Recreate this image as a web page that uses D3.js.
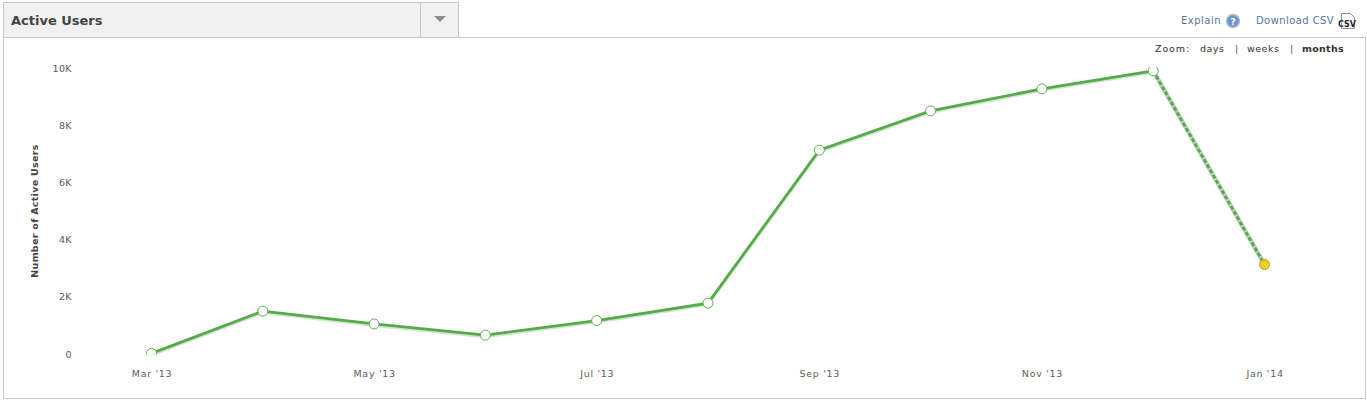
<!DOCTYPE html>
<html><head><meta charset="utf-8">
<script src="https://cdnjs.cloudflare.com/ajax/libs/d3/7.8.5/d3.min.js"></script>
<style>html,body{margin:0;padding:0;background:#fff;overflow:hidden}svg{display:block}text{font-family:"DejaVu Sans",Verdana,sans-serif}</style>
</head><body><svg id="c" width="1367" height="400"></svg>
<script>
const months=["Mar '13","Apr '13","May '13","Jun '13","Jul '13","Aug '13","Sep '13","Oct '13","Nov '13","Dec '13","Jan '14"];
const activeUsers=[20,1500,1050,660,1170,1780,7130,8500,9270,9900,3130];
const yTicks=[0,2000,4000,6000,8000,10000];
const xTickLabels=["Mar '13","May '13","Jul '13","Sep '13","Nov '13","Jan '14"];
const zoomOptions=["days","weeks","months"];

const svg=d3.select("#c");
const x=d3.scalePoint().domain(months).range([151.5,1264.5]);
const y=d3.scaleLinear().domain([0,10000]).range([354,68]);

// frame
svg.append("rect").attr("x",3.5).attr("y",37.5).attr("width",1362).attr("height",361).attr("fill","#fff").attr("stroke","#c8c8c8");
svg.append("rect").attr("x",3.5).attr("y",2.5).attr("width",455).attr("height",35).attr("fill","#f1f1f1").attr("stroke","#c8c8c8");
svg.append("line").attr("x1",420.5).attr("x2",420.5).attr("y1",3).attr("y2",37).attr("stroke","#c8c8c8");
svg.append("path").attr("d","M434,16h12l-6,6z").attr("fill","#8a8a8a");
svg.append("text").attr("x",11).attr("y",25).attr("font-size",13).attr("font-weight","bold").attr("fill","#444").text("Active Users");

// header links
svg.append("text").attr("x",1181).attr("y",24).attr("font-size",10).attr("letter-spacing",0.5).attr("fill","#5a7299").text("Explain");
svg.append("circle").attr("cx",1233).attr("cy",21).attr("r",6.5).attr("fill","#6f93c4").attr("stroke","#a8bedd").attr("stroke-width",1.5);
svg.append("text").attr("x",1233).attr("y",24.5).attr("text-anchor","middle").attr("font-size",9).attr("font-weight","bold").attr("fill","#fff").text("?");
svg.append("text").attr("x",1256).attr("y",24).attr("font-size",10).attr("letter-spacing",0.42).attr("fill","#5a7299").text("Download CSV");
svg.append("path").attr("d","M1341.5,13.5h9l4,4v11h-13z").attr("fill","#fff").attr("stroke","#8a97a8");
svg.append("text").attr("x",1347).attr("y",27).attr("text-anchor","middle").attr("font-size",8).attr("font-weight","bold").attr("fill","#223").text("CSV");

// zoom control
svg.append("text").attr("x",1155).attr("y",52).attr("font-size",9.5).attr("letter-spacing",0.9).attr("fill","#333").text("Zoom:");
const zx=[1200,1247,1302];
zoomOptions.forEach((z,i)=>svg.append("text").attr("x",zx[i]).attr("y",52).attr("font-size",9.5)
  .attr("letter-spacing",z==="months"?0.3:0.5)
  .attr("font-weight",z==="months"?"bold":"normal").attr("fill","#333").text(z));
[1235,1290].forEach(p=>svg.append("text").attr("x",p).attr("y",52).attr("font-size",9.5).attr("fill","#555").text("|"));

// axes
const yAxis=d3.axisLeft(y).tickValues(yTicks).tickSize(0).tickPadding(0)
  .tickFormat(d=>d===0?"0":(d/1000)+"K");
const gy=svg.append("g").attr("transform","translate(72,0)").call(yAxis);
gy.select(".domain").remove();
gy.selectAll("text").attr("font-size",9.5).attr("letter-spacing",0.4).attr("fill","#5c5c5c").attr("font-family",'"DejaVu Sans",sans-serif');

const xAxis=d3.axisBottom(x).tickValues(xTickLabels).tickSize(0).tickPadding(0);
const gx=svg.append("g").attr("transform","translate(0,370)").call(xAxis);
gx.select(".domain").remove();
gx.selectAll("text").attr("font-size",9.5).attr("letter-spacing",0.7).attr("fill","#5c5c5c").attr("font-family",'"DejaVu Sans",sans-serif');

svg.append("text").attr("transform","translate(38,211) rotate(-90)").attr("text-anchor","middle")
  .attr("font-size",9.5).attr("letter-spacing",0.3).attr("font-weight","bold").attr("fill","#444").text("Number of Active Users");

// clip
const defs=svg.append("defs");
defs.append("clipPath").attr("id","plot").append("rect")
  .attr("x",100).attr("y",y(10000)-1).attr("width",1230).attr("height",y(0)-y(10000)+1.5);

const plot=svg.append("g").attr("clip-path","url(#plot)");
const line=d3.line().x((d,i)=>x(months[i])).y(d=>y(d));
const last=activeUsers.length-1;
const solid=activeUsers.slice(0,last);
const tail=activeUsers.slice(last-1);
const tailLine=d3.line().x((d,i)=>x(months[last-1+i])).y(d=>y(d));

// soft shadow
plot.append("path").datum(solid).attr("d",line).attr("transform","translate(0,1.5)").attr("fill","none").attr("stroke","#b9d8b4").attr("stroke-width",3).attr("opacity",.65);
plot.append("path").datum(tail).attr("d",tailLine).attr("fill","none").attr("stroke","#b7d8b2").attr("stroke-width",4.5);
// lines
plot.append("path").datum(solid).attr("d",line).attr("fill","none").attr("stroke","#55ab4a").attr("stroke-width",2.8);
plot.append("path").datum(tail).attr("d",tailLine).attr("fill","none").attr("stroke","#5fa05a").attr("stroke-width",2.8).attr("stroke-dasharray","4,2");

plot.selectAll("circle").data(activeUsers).join("circle")
  .attr("cx",(d,i)=>x(months[i])).attr("cy",d=>y(d)).attr("r",5)
  .attr("fill",(d,i)=>i===last?"#f8cc1e":"#fff")
  .attr("stroke",(d,i)=>i===last?"#93a63a":"#5fb055").attr("stroke-width",1);
</script></body></html>
